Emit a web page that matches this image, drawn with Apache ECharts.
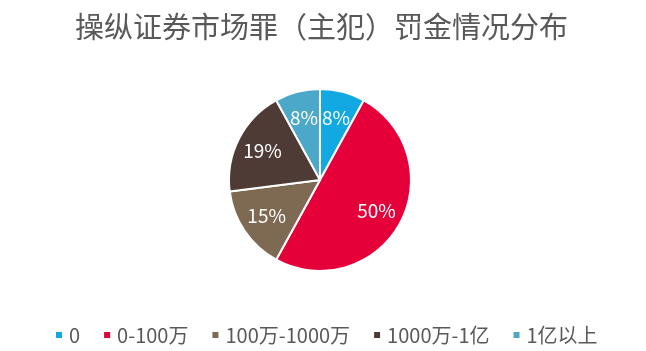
<!DOCTYPE html>
<html>
<head>
<meta charset="utf-8">
<script src="https://cdn.jsdelivr.net/npm/echarts@6/dist/echarts.min.js"></script>
<style>
  html, body { margin: 0; padding: 0; background: #fff; }
  #chart { width: 646px; height: 351px; }
</style>
</head>
<body>
<div id="chart"></div>
<script>
// 罚金区间
const categories = ["0", "0-100万", "100万-1000万", "1000万-1亿", "1亿以上"];
// 占比 (%)
const values = [8, 50, 15, 19, 8];
const colorList = ["#12A8E2", "#E6003A", "#7E6A52", "#4F3B36", "#4BA8C8"];

const chart = echarts.init(document.getElementById("chart"));
const pieData = categories.map((name, i) => ({ name: name, value: values[i] }));
const fontFamily = '"Noto Sans CJK SC", "Noto Sans", sans-serif';

chart.setOption({
  backgroundColor: "#fff",
  color: colorList,
  animation: false,
  title: {
    text: "操纵证券市场罪（主犯）罚金情况分布",
    left: 70,
    top: 7,
    textStyle: {
      color: "#595959",
      fontSize: 29,
      fontWeight: "normal",
      fontFamily: fontFamily
    }
  },
  legend: {
    left: 49,
    top: 320,
    icon: "rect",
    itemWidth: 8,
    itemHeight: 8,
    itemGap: 22,
    textStyle: {
      color: "#595959",
      fontSize: 20,
      fontFamily: fontFamily,
      padding: [0, 0, 0, 1]
    },
    data: categories
  },
  series: [
    {
      type: "pie",
      center: [320, 180],
      radius: [0, 91],
      startAngle: 90,
      clockwise: true,
      itemStyle: { borderColor: "#fff", borderWidth: 2 },
      label: { show: false },
      labelLine: { show: false },
      data: pieData
    },
    {
      // 标签层（透明），让标签更靠外
      type: "pie",
      center: [320, 180],
      radius: [32, 91],
      startAngle: 90,
      clockwise: true,
      silent: true,
      itemStyle: { color: "transparent" },
      label: {
        show: true,
        position: "inside",
        formatter: "{c}%",
        color: "#fff",
        fontSize: 19,
        fontFamily: fontFamily
      },
      labelLine: { show: false },
      data: pieData
    }
  ]
});
</script>
</body>
</html>
